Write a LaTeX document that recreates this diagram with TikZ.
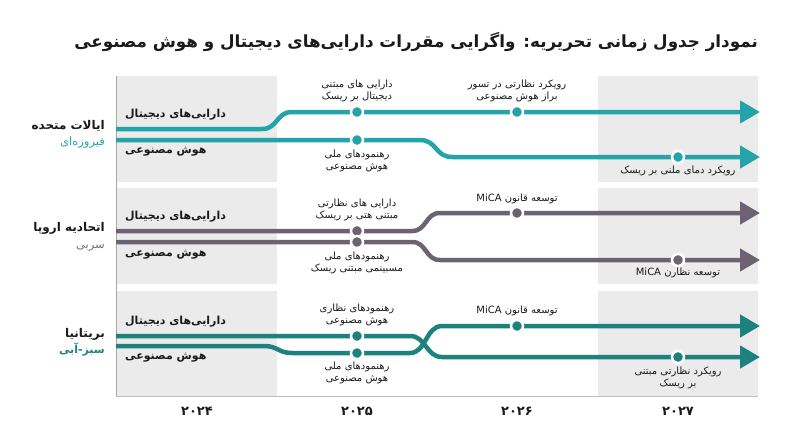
\documentclass[tikz,border=0pt]{standalone}
\usepackage{fontspec}
\usetikzlibrary{arrows.meta}
\TeXXeTstate=1
\newfontfamily\fa[Script=Arabic]{DejaVu Sans}
\newcommand\rl[1]{\beginR #1\endR}
\definecolor{turq}{HTML}{22A4A8}
\definecolor{plum}{HTML}{6D6271}
\definecolor{teal}{HTML}{1C827E}
\definecolor{bggrey}{HTML}{EBEBEB}
\definecolor{ink}{HTML}{1A1A1A}
\tikzset{
  track/.style={line width=4.5pt, draw=#1, -{Triangle[length=20pt,width=22pt]}},
  dot/.style={circle, fill=#1, draw=white, line width=2.5pt, inner sep=0pt, minimum size=12pt},
  rowlab/.style={font=\fa\bfseries\fontsize{11}{13}\selectfont, text=ink, anchor=west, inner sep=0pt},
  country/.style={font=\fa\bfseries\fontsize{12}{14}\selectfont, text=ink, anchor=east, inner sep=0pt},
  sub/.style={font=\fa\fontsize{11.5}{13}\selectfont, anchor=east, inner sep=0pt},
  mile/.style={font=\fa\fontsize{10}{11.5}\selectfont, text=ink, align=center, inner sep=0pt},
  year/.style={font=\fa\bfseries\fontsize{13}{15}\selectfont, text=ink, inner sep=0pt},
}
\begin{document}
\begin{tikzpicture}[x=1pt,y=-1pt]
\useasboundingbox (0,0) rectangle (800,447);
% grey columns
\foreach \ya/\yb in {76/182,188/284,291/396}{
  \fill[bggrey] (116,\ya) rectangle (277,\yb);
  \fill[bggrey] (598,\ya) rectangle (758,\yb);
}
\draw[draw=black!35, line width=0.7pt] (116,76) -- (116,396);
\draw[draw=black!25, line width=0.7pt] (116,396) -- (758,396);
% title
\node[font=\fa\bfseries\fontsize{16.75}{20}\selectfont, text=ink, anchor=east, inner sep=0pt] (title) at (758,42)
  {\rl{نمودار جدول زمانی تحریریه: واگرایی مقررات دارایی‌های دیجیتال و هوش مصنوعی}};

% ---------- Band 1: US ----------
\coordinate (a1s) at (116,129); \coordinate (a1e) at (760,112);
\coordinate (b1s) at (116,140); \coordinate (b1e) at (760,157);
\draw[track=turq] (a1s) -- (262,129) .. controls (278,129) and (276,112) .. (292,112) -- (a1e);
\draw[track=turq] (b1s) -- (420,140) .. controls (437,140) and (435,157) .. (452,157) -- (b1e);
\node[dot=turq] (d11) at (357,112) {};
\node[dot=turq] (d12) at (517,112) {};
\node[dot=turq] (d13) at (357,140) {};
\node[dot=turq] (d14) at (678,157) {};
\node[rowlab] (l11) at (125,115) {\rl{دارایی‌های دیجیتال}};
\node[rowlab] (l12) at (125,152) {\rl{هوش مصنوعی}};
\node[country] (c1) at (105,126) {\rl{ایالات متحده}};
\node[sub, text=turq] (s1) at (105,143) {\rl{فیروزه‌ای}};
\node[mile, anchor=south] (m11) at (357,102) {\rl{دارایی های مبتنی}\\\rl{دیجیتال بر ریسک}};
\node[mile, anchor=south] (m12) at (517,102) {\rl{رویکرد نظارتی در تسور}\\\rl{براز هوش مصنوعی}};
\node[mile, anchor=north] (m13) at (357,150) {\rl{رهنمودهای ملی}\\\rl{هوش مصنوعی}};
\node[mile, anchor=north] (m14) at (678,166) {\rl{رویکرد دمای ملنی بر ریسک}};

% ---------- Band 2: EU ----------
\coordinate (a2s) at (116,231); \coordinate (a2e) at (760,213);
\coordinate (b2s) at (116,242); \coordinate (b2e) at (760,260);
\draw[track=plum] (a2s) -- (412,231) .. controls (427,231) and (425,213) .. (440,213) -- (a2e);
\draw[track=plum] (b2s) -- (412,242) .. controls (427,242) and (425,260) .. (440,260) -- (b2e);
\node[dot=plum] (d21) at (357,231) {};
\node[dot=plum] (d22) at (517,213) {};
\node[dot=plum] (d23) at (357,242) {};
\node[dot=plum] (d24) at (678,260) {};
\node[rowlab] (l21) at (125,217) {\rl{دارایی‌های دیجیتال}};
\node[rowlab] (l22) at (125,255) {\rl{هوش مصنوعی}};
\node[country] (c2) at (105,228) {\rl{اتحادیه اروپا}};
\node[sub, text=black!55] (s2) at (105,248) {\rl{سربی}};
\node[mile, anchor=south] (m21) at (357,221) {\rl{دارایی های نظارتی}\\\rl{مبتنی هتی بر ریسک}};
\node[mile, anchor=south] (m22) at (517,204) {\rl{توسعه قانون \beginL MiCA\endL{}}};
\node[mile, anchor=north] (m23) at (357,252) {\rl{رهنمودهای ملی}\\\rl{مسبینمی مبتنی ریسک}};
\node[mile, anchor=north] (m24) at (678,268) {\rl{توسعه نظارن \beginL MiCA\endL{}}};

% ---------- Band 3: UK ----------
\coordinate (a3s) at (116,336); \coordinate (a3e) at (760,357);
\coordinate (b3s) at (116,346); \coordinate (b3e) at (760,326);
\draw[track=teal] (a3s) -- (410,336) .. controls (426,336) and (426,357) .. (442,357) -- (a3e);
\draw[track=teal] (b3s) -- (264,346) .. controls (278,346) and (278,353) .. (292,353) -- (410,353) .. controls (426,353) and (426,326) .. (442,326) -- (b3e);
\node[dot=teal] (d31) at (357,336) {};
\node[dot=teal] (d32) at (517,326) {};
\node[dot=teal] (d33) at (357,353) {};
\node[dot=teal] (d34) at (678,357) {};
\node[rowlab] (l31) at (125,322) {\rl{دارایی‌های دیجیتال}};
\node[rowlab] (l32) at (125,358) {\rl{هوش مصنوعی}};
\node[country] (c3) at (105,334) {\rl{بریتانیا}};
\node[sub, text=teal, font=\fa\bfseries\fontsize{11}{13}\selectfont] (s3) at (105,350) {\rl{سبز-آبی}};
\node[mile, anchor=south] (m31) at (357,326) {\rl{رهنمودهای نظاری}\\\rl{هوش مصنوعی}};
\node[mile, anchor=south] (m32) at (517,316) {\rl{توسعه قانون \beginL MiCA\endL{}}};
\node[mile, anchor=north] (m33) at (357,362) {\rl{رهنمودهای ملی}\\\rl{هوش مصنوعی}};
\node[mile, anchor=north] (m34) at (678,367) {\rl{رویکرد نظارتی مبتنی}\\\rl{بر ریسک}};

% years
\node[year] (y1) at (197,411) {۲۰۲۴};
\node[year] (y2) at (357,411) {۲۰۲۵};
\node[year] (y3) at (517,411) {۲۰۲۶};
\node[year] (y4) at (678,411) {۲۰۲۷};
\end{tikzpicture}
\end{document}
